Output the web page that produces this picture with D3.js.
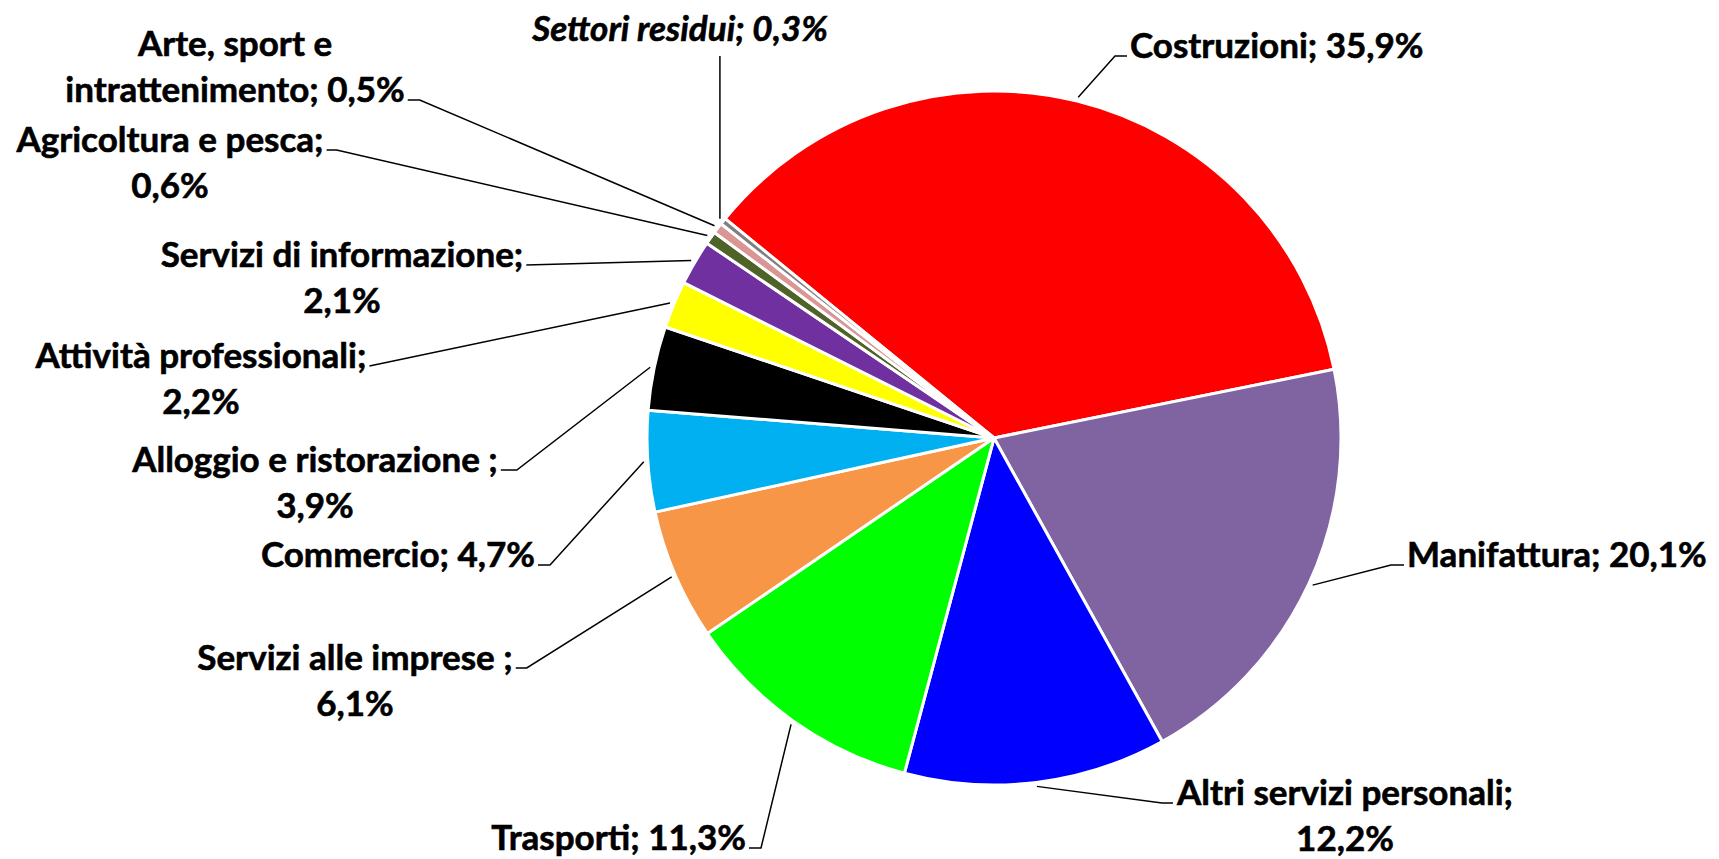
<!DOCTYPE html>
<html>
<head>
<meta charset="utf-8">
<script src="https://cdn.jsdelivr.net/npm/d3@7/dist/d3.min.js"></script>
<style>
  html, body { margin: 0; padding: 0; background: #fff; }
  svg { display: block; }
  .lbl { font-family: Lato, "Open Sans", sans-serif; font-weight: bold; font-size: 35px; fill: #000;
         stroke: #000; stroke-width: 0.6px; }
  .leader { fill: none; stroke: #000; stroke-width: 1.5; }
</style>
</head>
<body>
<svg id="chart" width="1719" height="859"></svg>
<script>
// ---- data (share of total, %) ----
const sectors = [
  "Costruzioni", "Manifattura", "Altri servizi personali", "Trasporti",
  "Servizi alle imprese ", "Commercio", "Alloggio e ristorazione ",
  "Attività professionali", "Servizi di informazione", "Agricoltura e pesca",
  "Arte, sport e intrattenimento", "Settori residui"
];
const shares = [35.9, 20.1, 12.2, 11.3, 6.1, 4.7, 3.9, 2.2, 2.1, 0.6, 0.5, 0.3];
const colors = [
  "#ff0000", "#8064a2", "#0000ff", "#00ff00", "#f79646", "#00b0f0",
  "#000000", "#ffff00", "#7030a0", "#4f6228", "#d99694", "#808080"
];
// how each label wraps: null = one line, "value" = value on 2nd line, else text of 1st line
const labelBreak = [null, null, "value", null, "value", null, "value", "value", "value", "value", "Arte, sport e", null];

// ---- label placement (hand placed like the original) ----
const labelX      = [1130, 1407, 1345, 746, 355, 535, 315, 201, 342, 170, 235, 680];
const labelY      = [58, 567, 805, 850, 670, 567, 472, 368, 267, 152, 56, 41];
const labelAnchor = ["start", "start", "middle", "end", "middle", "end", "middle", "middle", "middle", "middle", "middle", "middle"];
const attachLine  = [0, 0, 0, 0, 0, 0, 0, 0, 0, 0, 1, 0];
const elbowLen    = [12, 13, 11, 12, 11, 12, 16, 0, 0, 10, 12, 0];

const cx = 994, cy = 438, radius = 347;
const lineGap = 46;
const start = -50.8 * Math.PI / 180;

const svg = d3.select("#chart");
const g = svg.append("g").attr("transform", `translate(${cx},${cy})`);

const pie = d3.pie().sort(null).startAngle(start).endAngle(start + 2 * Math.PI);
const arcs = pie(shares);
const arc = d3.arc().innerRadius(0).outerRadius(radius);
const edgeArc = d3.arc().innerRadius(radius + 4).outerRadius(radius + 4);

g.selectAll("path.slice")
  .data(arcs)
  .join("path")
  .attr("class", "slice")
  .attr("d", arc)
  .attr("fill", (d, i) => colors[i])
  .attr("stroke", "#fff")
  .attr("stroke-width", 3)
  .attr("stroke-linejoin", "round");

const fmt = v => d3.format(".1f")(v).replace(".", ",") + "%";

function labelLines(i) {
  const name = sectors[i], pct = fmt(shares[i]);
  const b = labelBreak[i];
  if (b === null) return [`${name}; ${pct}`];
  if (b === "value") return [`${name};`, pct];
  const full = `${name}; ${pct}`;
  return [b, full.slice(b.length).trim()];
}

const labels = svg.append("g");
arcs.forEach((d, i) => {
  const lines = labelLines(i);
  const texts = lines.map((t, k) =>
    labels.append("text")
      .attr("class", "lbl")
      .attr("x", labelX[i])
      .attr("y", labelY[i] + k * lineGap)
      .attr("text-anchor", labelAnchor[i])
      .style("font-style", i === shares.length - 1 ? "italic" : null)
      .text(t)
  );

  const [px, py] = edgeArc.centroid(d).map((v, k) => v + (k ? cy : cx));
  const box = texts[attachLine[i]].node().getBBox();
  let pts;
  if (i === shares.length - 1) {
    // settori residui: leader straight down from the label
    pts = [[px, box.y + box.height + 8], [px, py]];
  } else {
    const leftSide = labelX[i] < cx;
    const sx = leftSide ? box.x + box.width + 3 : box.x - 3;
    const sy = labelY[i] + attachLine[i] * lineGap - 2;
    const ex = leftSide ? sx + elbowLen[i] : sx - elbowLen[i];
    pts = [[sx, sy], [ex, sy], [px, py]];
  }
  labels.append("path")
    .attr("class", "leader")
    .attr("d", d3.line()(pts));
});
</script>
</body>
</html>
